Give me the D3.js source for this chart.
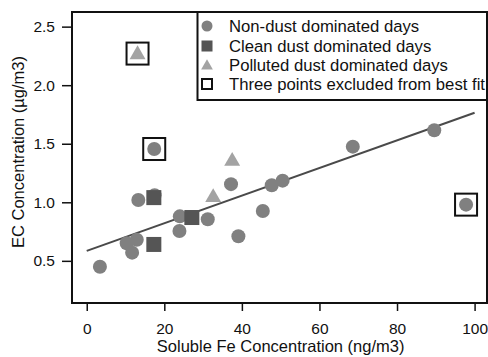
<!DOCTYPE html>
<html>
<head>
<meta charset="utf-8">
<script src="https://cdn.jsdelivr.net/npm/d3@7/dist/d3.min.js"></script>
<style>
  body { margin: 0; background: #fff; }
  text { font-family: "Liberation Sans", Arial, sans-serif; fill: #111; }
</style>
</head>
<body>
<div id="chart"></div>
<script>
// non-dust dominated days
const nonDustFe = [3.4, 13.3, 17.5, 24.0, 23.9, 31.2, 37.2, 39.1, 10.3, 12.9, 11.7, 45.4, 47.7, 50.5, 97.8, 68.6, 89.6, 17.4];
const nonDustEC = [0.45, 1.02, 1.06, 0.88, 0.755, 0.855, 1.155, 0.71, 0.65, 0.68, 0.57, 0.925, 1.145, 1.185, 0.98, 1.475, 1.615, 1.455];
// clean dust dominated days
const cleanFe = [17.3, 17.3, 27.1];
const cleanEC = [1.04, 0.64, 0.87];
// polluted dust dominated days
const pollutedFe = [13.1, 37.5, 32.6];
const pollutedEC = [2.27, 1.36, 1.05];
// points excluded from best fit
const excludedFe = [13.1, 17.4, 97.8];
const excludedEC = [2.27, 1.455, 0.98];
// best fit line
const fitFe = [0, 100];
const fitEC = [0.585, 1.765];

const xTicks = [0, 20, 40, 60, 80, 100];
const yTicks = [0.5, 1.0, 1.5, 2.0, 2.5];
const legendLabels = ["Non-dust dominated days", "Clean dust dominated days",
  "Polluted dust dominated days", "Three points excluded from best fit"];

const width = 488, height = 357;
const margin = { left: 72, right: 1, top: 12, bottom: 54 };

const svg = d3.select("#chart").append("svg")
  .attr("width", width)
  .attr("height", height);

const x = d3.scaleLinear().domain([-3.8, 103.2]).range([margin.left, width - margin.right]);
const y = d3.scaleLinear().domain([0.14, 2.625]).range([height - margin.bottom, margin.top]);

const circleColor = "#808080", squareColor = "#555555", triColor = "#a3a3a3";

// axes
const xAxis = svg.append("g").attr("transform", "translate(0," + (height - margin.bottom) + ")");
xAxis.call(d3.axisBottom(x).tickValues(d3.range(0, 101, 10)).tickSize(4).tickFormat(""));
xAxis.call(d3.axisBottom(x).tickValues(xTicks).tickSize(8).tickPadding(12).tickFormat(d3.format("d")));
xAxis.selectAll(".domain").remove();
xAxis.selectAll("line").attr("stroke", "#111").attr("stroke-width", 1.5);
xAxis.selectAll("text").style("font-size", "15.5px").attr("fill", "#111");

const yAxis = svg.append("g").attr("transform", "translate(" + margin.left + ",0)");
yAxis.call(d3.axisLeft(y).tickValues(d3.range(3, 26).map(d => d / 10)).tickSize(6).tickFormat(""));
yAxis.call(d3.axisLeft(y).tickValues(yTicks).tickSize(10).tickPadding(7).tickFormat(d3.format(".1f")));
yAxis.selectAll(".domain").remove();
yAxis.selectAll("line").attr("stroke", "#111").attr("stroke-width", 1.5);
yAxis.selectAll("text").style("font-size", "15.5px").attr("fill", "#111");

// frame
svg.append("rect")
  .attr("x", margin.left).attr("y", margin.top)
  .attr("width", width - margin.right - margin.left)
  .attr("height", height - margin.bottom - margin.top)
  .attr("fill", "none").attr("stroke", "#111").attr("stroke-width", 2);

// fit line
svg.append("line")
  .attr("x1", x(fitFe[0])).attr("y1", y(fitEC[0]))
  .attr("x2", x(fitFe[1])).attr("y2", y(fitEC[1]))
  .attr("stroke", "#4a4a4a").attr("stroke-width", 2);

// points
svg.selectAll(".nd").data(nonDustFe).enter().append("circle")
  .attr("cx", d => x(d)).attr("cy", (d, i) => y(nonDustEC[i]))
  .attr("r", 7).attr("fill", circleColor);

svg.selectAll(".cd").data(cleanFe).enter().append("rect")
  .attr("x", d => x(d) - 7.5).attr("y", (d, i) => y(cleanEC[i]) - 7.5)
  .attr("width", 15).attr("height", 15).attr("fill", squareColor);

const tri = d3.symbol().type(d3.symbolTriangle).size(110);
svg.selectAll(".pd").data(pollutedFe).enter().append("path")
  .attr("d", tri)
  .attr("transform", (d, i) => "translate(" + x(d) + "," + (y(pollutedEC[i]) + 1) + ")")
  .attr("fill", triColor);

svg.selectAll(".ex").data(excludedFe).enter().append("rect")
  .attr("x", d => x(d) - 11).attr("y", (d, i) => y(excludedEC[i]) - 11)
  .attr("width", 22).attr("height", 22)
  .attr("fill", "none").attr("stroke", "#111").attr("stroke-width", 2);

// legend
const lg = svg.append("g");
lg.append("rect")
  .attr("x", 197.5).attr("y", margin.top)
  .attr("width", width - margin.right - 197.5).attr("height", 88)
  .attr("fill", "#fff").attr("stroke", "#111").attr("stroke-width", 2);
const rowY = [26, 46, 65, 84];
const sx = 207;
lg.append("circle").attr("cx", sx).attr("cy", rowY[0]).attr("r", 5.5).attr("fill", circleColor);
lg.append("rect").attr("x", sx - 5.5).attr("y", rowY[1] - 5.5).attr("width", 11).attr("height", 11).attr("fill", squareColor);
lg.append("path").attr("d", d3.symbol().type(d3.symbolTriangle).size(60))
  .attr("transform", "translate(" + sx + "," + (rowY[2] + 1) + ")").attr("fill", triColor);
lg.append("rect").attr("x", sx - 5).attr("y", rowY[3] - 5).attr("width", 10).attr("height", 10)
  .attr("fill", "none").attr("stroke", "#111").attr("stroke-width", 2);
lg.selectAll(".lt").data(legendLabels).enter().append("text")
  .attr("x", 229).attr("y", (d, i) => rowY[i])
  .attr("dy", "0.35em")
  .style("font-size", "16.7px")
  .text(d => d);

// axis titles
svg.append("text")
  .attr("x", (x(0) + x(100)) / 2).attr("y", 352)
  .attr("text-anchor", "middle")
  .style("font-size", "16.5px")
  .text("Soluble Fe Concentration (ng/m3)");

svg.append("text")
  .attr("transform", "translate(18,152) rotate(-90)")
  .attr("text-anchor", "middle")
  .attr("dy", "0.35em")
  .style("font-size", "16.5px")
  .text("EC Concentration (µg/m3)");
</script>
</body>
</html>
